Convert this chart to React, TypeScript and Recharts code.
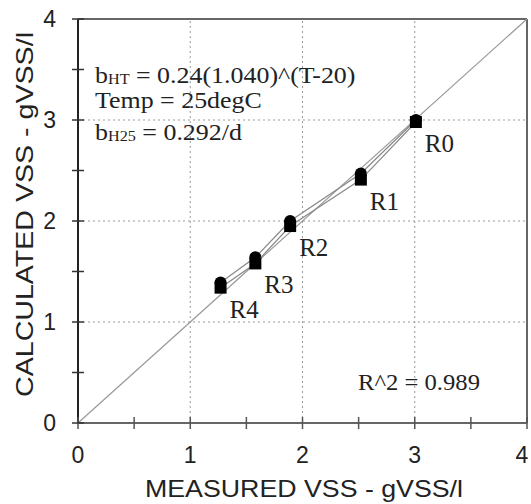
import React from 'react';
import { ScatterChart, Scatter, XAxis, YAxis, ReferenceLine, Customized } from 'recharts';

// runs, measured VSS (x) and two calculated VSS values (y) per run
const runs = ['R0', 'R1', 'R2', 'R3', 'R4'];
const measuredVss = [3.01, 2.52, 1.89, 1.58, 1.27];
const calcVssCircle = [3.0, 2.47, 2.0, 1.64, 1.39];
const calcVssSquare = [2.98, 2.41, 1.95, 1.58, 1.34];

const axisTicks = [0, 0.5, 1, 1.5, 2, 2.5, 3, 3.5, 4];
const gridValues = [1, 2, 3];

const circleData = runs.map((name, i) => ({ name, x: measuredVss[i], y: calcVssCircle[i] }));
const squareData = runs.map((name, i) => ({ name, x: measuredVss[i], y: calcVssSquare[i] }));

const SANS = '"Liberation Sans", Arial, sans-serif';
const SERIF = '"Liberation Serif", "Times New Roman", serif';

function XTick(props: any) {
  const { x, y, payload } = props;
  const v = payload.value;
  const major = Number.isInteger(v);
  // last label sits against the right edge of the picture
  const lx = v === 4 ? x - 5 : x;
  return (
    <g>
      <line x1={x} x2={x} y1={y - 6} y2={y + 6} stroke="#555" strokeWidth={1.5} />
      {major && (
        <text x={lx} y={y + 40} textAnchor="middle" fontFamily={SANS} fontSize={23} fill="#222">
          {v}
        </text>
      )}
    </g>
  );
}

function YTick(props: any) {
  const { x, y, payload } = props;
  const v = payload.value;
  const major = Number.isInteger(v);
  return (
    <g>
      <line x1={x - 6} x2={x + 6} y1={y} y2={y} stroke="#333" strokeWidth={1.5} />
      {major && (
        <text x={x - 22} y={y + 8} textAnchor="end" fontFamily={SANS} fontSize={23} fill="#222">
          {v}
        </text>
      )}
    </g>
  );
}

const CircleMark = (p: any) => <circle cx={p.cx} cy={p.cy} r={6} fill="#000" />;

const SquareMark = (p: any) => {
  const name = p.payload?.name ?? p.name;
  return (
    <g>
      <rect x={p.cx - 6} y={p.cy - 6} width={12} height={12} fill="#000" />
      <text x={p.cx + 9} y={p.cy + 30} fontFamily={SERIF} fontSize={25} fill="#222">
        {name}
      </text>
    </g>
  );
};

const Annotations = () => (
  <g fontFamily={SERIF} fill="#222">
    <g transform="translate(95,83) scale(1.08,1)">
      <text x={0} y={0} fontSize={24}>
        b<tspan fontSize={15} dy={1}>HT</tspan>
        <tspan dy={-1}> = 0.24(1.040)^(T-20)</tspan>
      </text>
    </g>
    <g transform="translate(95,108) scale(1.08,1)">
      <text x={0} y={0} fontSize={24}>Temp = 25degC</text>
    </g>
    <g transform="translate(95,140) scale(1.08,1)">
      <text x={0} y={0} fontSize={24}>
        b<tspan fontSize={15} dy={1}>H25</tspan>
        <tspan dy={-1}> = 0.292/d</tspan>
      </text>
    </g>
    <text x={358} y={390} fontSize={24} textLength={122} lengthAdjust="spacingAndGlyphs">
      R^2 = 0.989
    </text>
    <text
      x={145}
      y={497}
      fontFamily={SANS}
      fontSize={24}
      textLength={318}
      lengthAdjust="spacingAndGlyphs"
    >
      MEASURED VSS  - gVSS/l
    </text>
    <text
      x={0}
      y={0}
      transform="translate(33,397) rotate(-90)"
      fontFamily={SANS}
      fontSize={24}
      textLength={365}
      lengthAdjust="spacingAndGlyphs"
    >
      CALCULATED VSS  - gVSS/l
    </text>
  </g>
);

export default function App() {
  return (
    <div style={{ position: 'absolute', left: 0, top: 0, width: 531, height: 504, background: '#fff' }}>
      <ScatterChart width={531} height={504} margin={{ top: 19, right: 4, bottom: 0, left: 0 }}>
        <XAxis
          type="number"
          dataKey="x"
          domain={[0, 4]}
          ticks={axisTicks}
          height={81}
          tickSize={0}
          tickMargin={0}
          tickLine={false}
          tick={<XTick />}
          axisLine={{ stroke: '#666', strokeWidth: 2 }}
          allowDataOverflow
        />
        <YAxis
          type="number"
          dataKey="y"
          domain={[0, 4]}
          ticks={axisTicks}
          width={78}
          tickSize={0}
          tickMargin={0}
          tickLine={false}
          tick={<YTick />}
          axisLine={{ stroke: '#222', strokeWidth: 2 }}
          allowDataOverflow
        />
        {gridValues.map((v) => (
          <ReferenceLine key={`gx${v}`} x={v} stroke="#999" strokeDasharray="2 3" />
        ))}
        {gridValues.map((v) => (
          <ReferenceLine key={`gy${v}`} y={v} stroke="#999" strokeDasharray="2 3" />
        ))}
        <ReferenceLine y={4} stroke="#666" strokeWidth={2} />
        <ReferenceLine x={4} stroke="#666" strokeWidth={2} />
        <ReferenceLine
          segment={[
            { x: 0, y: 0 },
            { x: 4, y: 4 },
          ]}
          stroke="#999"
          strokeWidth={1.2}
        />
        <Scatter
          data={circleData}
          line={{ stroke: '#888', strokeWidth: 1.2 }}
          lineType="joint"
          shape={CircleMark}
          isAnimationActive={false}
        />
        <Scatter
          data={squareData}
          line={{ stroke: '#888', strokeWidth: 1.2 }}
          lineType="joint"
          shape={SquareMark}
          isAnimationActive={false}
        />
        <Customized component={Annotations} />
      </ScatterChart>
    </div>
  );
}
